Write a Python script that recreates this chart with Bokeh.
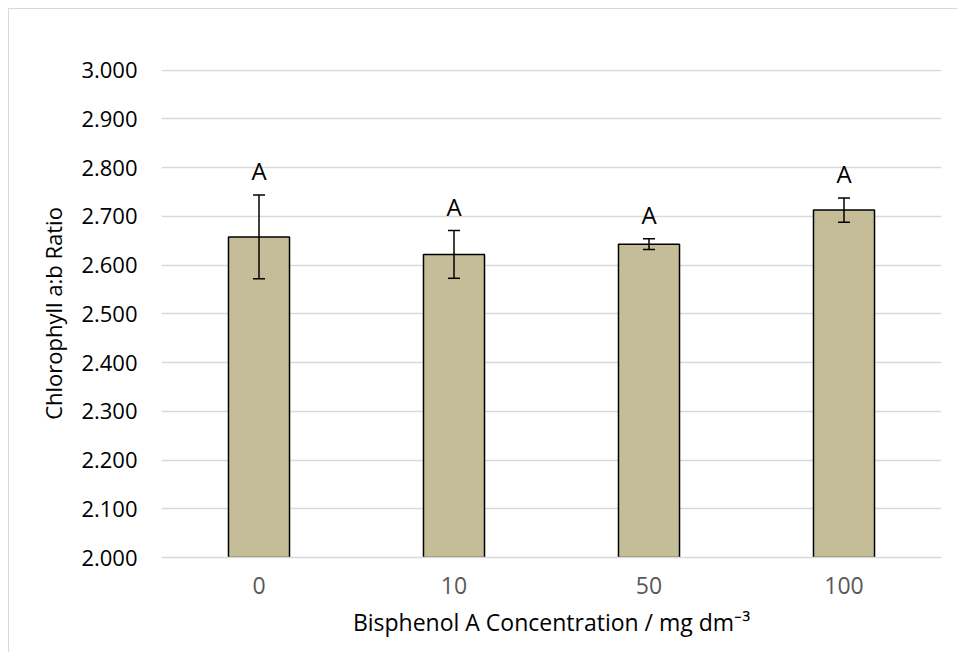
from bokeh.plotting import figure
from bokeh.models import ColumnDataSource, FixedTicker, NumeralTickFormatter, Whisker, TeeHead, Range1d
from bokeh.core.properties import value
from bokeh.embed import file_html
from bokeh.resources import INLINE

categories = ["0", "10", "50", "100"]
means = [2.658, 2.622, 2.643, 2.713]
errors = [0.086, 0.049, 0.011, 0.025]
letters = ["A", "A", "A", "A"]
y_ticks = [2.0, 2.1, 2.2, 2.3, 2.4, 2.5, 2.6, 2.7, 2.8, 2.9, 3.0]

FONT = "Open Sans"

src = ColumnDataSource(dict(
    x=categories,
    top=means,
    upper=[m + e for m, e in zip(means, errors)],
    lower=[m - e for m, e in zip(means, errors)],
    lab=letters,
))

p = figure(x_range=categories, y_range=Range1d(2.0, 3.0015),
           width=949, height=644, output_backend="svg", toolbar_location=None,
           min_border_left=152, min_border_right=17, min_border_top=60, min_border_bottom=96)
p.styles = {"margin-left": "8px", "margin-top": "8px",
            "border-left": "1px solid #d9d9d9", "border-top": "1px solid #d9d9d9"}
p.outline_line_color = None
p.background_fill_color = "white"
p.border_fill_color = "white"

p.vbar(x="x", top="top", bottom=2.0, width=0.313, source=src,
       fill_color="#c4bd97", line_color="black", line_width=1.5)

w = Whisker(base="x", upper="upper", lower="lower", source=src, level="overlay",
            line_color="black", line_width=1.5,
            upper_head=TeeHead(size=12, line_color="black", line_width=1.5),
            lower_head=TeeHead(size=12, line_color="black", line_width=1.5))
p.add_layout(w)

p.text(x="x", y="upper", text="lab", source=src, text_align="center",
       text_baseline="bottom", y_offset=-8, text_font=value(FONT),
       text_font_size="24px", text_color="black")

# grid
p.xgrid.grid_line_color = None
p.ygrid.ticker = FixedTicker(ticks=y_ticks)
p.ygrid.grid_line_color = "#d9d9d9"
p.ygrid.grid_line_width = 1.5

# y axis
p.yaxis.ticker = FixedTicker(ticks=y_ticks)
p.yaxis.formatter = NumeralTickFormatter(format="0.000")
p.yaxis.axis_line_color = None
p.yaxis.major_tick_line_color = None
p.yaxis.minor_tick_line_color = None
p.yaxis.major_label_standoff = 18
p.yaxis.major_label_text_font = FONT
p.yaxis.major_label_text_font_size = "22px"
p.yaxis.major_label_text_color = "black"
p.yaxis.axis_label = "Chlorophyll a:b Ratio"
p.yaxis.axis_label_text_font = FONT
p.yaxis.axis_label_text_font_size = "22px"
p.yaxis.axis_label_text_font_style = "normal"
p.yaxis.axis_label_text_color = "black"
p.yaxis.axis_label_standoff = 10

# x axis
p.xaxis.axis_line_color = "#d9d9d9"
p.xaxis.axis_line_width = 1.5
p.xaxis.major_tick_line_color = None
p.xaxis.minor_tick_line_color = None
p.xaxis.major_label_standoff = 13
p.xaxis.major_label_text_font = FONT
p.xaxis.major_label_text_font_size = "23px"
p.xaxis.major_label_text_color = "#595959"
p.xaxis.axis_label = "Bisphenol A Concentration / mg dm\u207b\u00b3"
p.xaxis.axis_label_text_font = FONT
p.xaxis.axis_label_text_font_size = "23px"
p.xaxis.axis_label_text_font_style = "normal"
p.xaxis.axis_label_text_color = "black"
p.xaxis.axis_label_standoff = 9

open("out.html", "w").write(file_html(p, INLINE))
